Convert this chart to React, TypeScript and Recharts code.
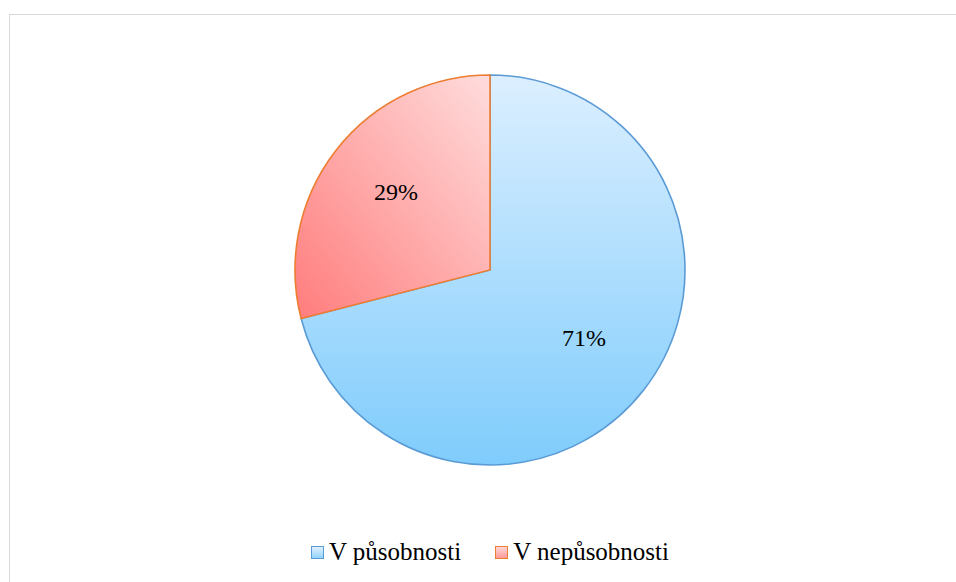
import { PieChart, Pie, Cell, Legend } from 'recharts';

const categories = ['V působnosti', 'V nepůsobnosti'];
const shares = [71, 29];
const strokes = ['#5b9bd5', '#ed7d31'];
const fills = ['url(#gradBlue)', 'url(#gradRed)'];

const data = categories.map((name, i) => ({ name, value: shares[i] }));

const SERIF = '"Liberation Serif", "Times New Roman", Times, "DejaVu Serif", serif';
const RAD = Math.PI / 180;

// percentage sits inside the slice, a bit past the middle of the radius
const renderLabel = ({ cx, cy, midAngle, outerRadius, value }: any) => {
  const r = outerRadius * 0.61;
  const x = cx + r * Math.cos(-midAngle * RAD);
  const y = cy + r * Math.sin(-midAngle * RAD) - 5;
  return (
    <text x={x} y={y} textAnchor="middle" dominantBaseline="central"
      style={{ fontFamily: SERIF, fontSize: 24 }} fill="#000">
      {`${value}%`}
    </text>
  );
};

const LegendBox = () => (
  <div style={{ display: 'flex', justifyContent: 'center', alignItems: 'center', fontFamily: SERIF, fontSize: 25, color: '#000' }}>
    {categories.map((name, i) => (
      <div key={name} style={{ display: 'flex', alignItems: 'center', marginRight: i === 0 ? 34 : 0 }}>
        <span style={{
          display: 'inline-block', width: 11, height: 11, marginRight: 5,
          border: `1.5px solid ${strokes[i]}`,
          background: i === 0 ? 'linear-gradient(#dff0fd, #93d3fc)' : 'linear-gradient(#ffd6d6, #ff9a9a)',
        }} />
        <span>{name}</span>
      </div>
    ))}
  </div>
);

const App = () => {
  return (
    <div style={{ position: 'absolute', left: 0, top: 0, width: 956, height: 582, background: '#fff', overflow: 'hidden' }}>
      <div style={{ position: 'absolute', left: 9, top: 14, width: 960, height: 600, border: '1.5px solid #d9d9d9', boxSizing: 'border-box' }} />
      <div style={{ position: 'absolute', left: 0, top: 0 }}>
        <PieChart width={956} height={582} margin={{ top: 0, right: 0, bottom: 0, left: 0 }}>
          <defs>
            <linearGradient id="gradBlue" x1="0" y1="0" x2="0" y2="1">
              <stop offset="0%" stopColor="#dcefff" />
              <stop offset="100%" stopColor="#7fccfc" />
            </linearGradient>
            <linearGradient id="gradRed" x1="1" y1="0" x2="0" y2="1">
              <stop offset="0%" stopColor="#ffdcdc" />
              <stop offset="100%" stopColor="#ff7c7c" />
            </linearGradient>
          </defs>
          <Pie
            data={data}
            dataKey="value"
            nameKey="name"
            cx={490}
            cy={270}
            outerRadius={195}
            startAngle={90}
            endAngle={-270}
            label={renderLabel}
            labelLine={false}
            isAnimationActive={false}
          >
            {data.map((entry, index) => (
              <Cell key={`cell-${index}`} fill={fills[index]} stroke={strokes[index]} strokeWidth={1.6} />
            ))}
          </Pie>
          <Legend content={<LegendBox />} verticalAlign="bottom" wrapperStyle={{ top: 538, left: 0, width: 980 }} />
        </PieChart>
      </div>
    </div>
  );
};

export default App;
